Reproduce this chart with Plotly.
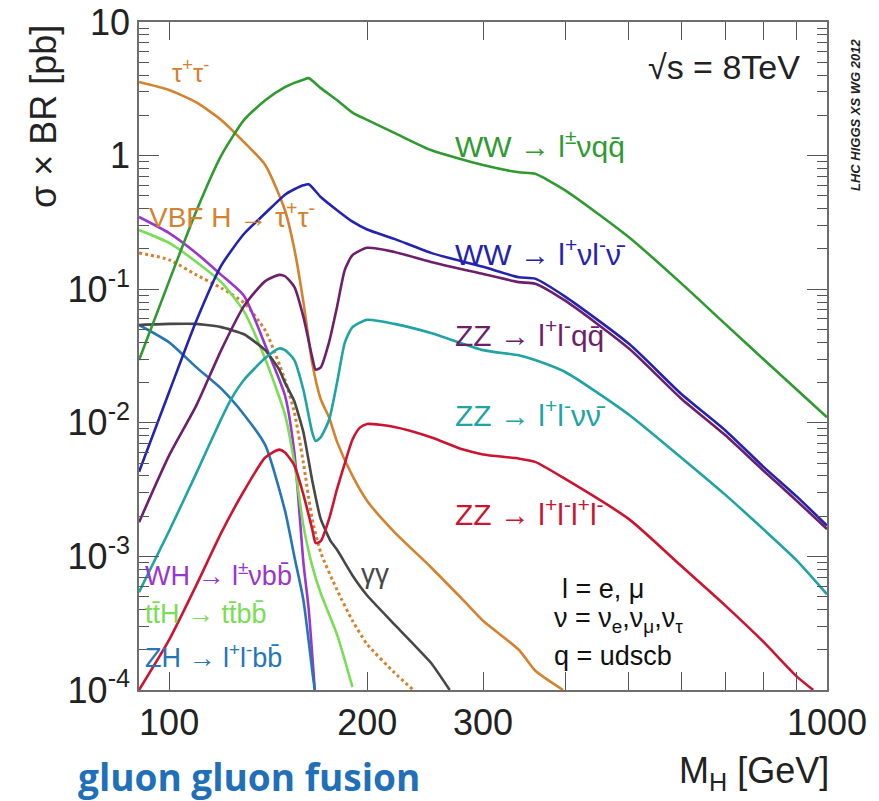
import plotly.graph_objects as go

# ---------------- data ----------------
M_ww_lvqq = [90, 100, 110, 120, 130, 140, 150, 155, 160, 163, 170, 180, 190, 200, 220, 250, 300, 340, 360, 400, 500, 600, 700, 800, 900, 1000]
ww_lvqq = [0.0295, 0.115, 0.385, 1.0, 1.85, 2.6, 3.25, 3.5, 3.7, 3.8, 3.2, 2.6, 2.1, 1.85, 1.48, 1.1, 0.85, 0.75, 0.73, 0.55, 0.245, 0.111, 0.055, 0.030, 0.0177, 0.011]

M_ww_lvlv = [90, 100, 110, 120, 130, 140, 150, 155, 160, 163, 170, 180, 190, 200, 220, 250, 300, 340, 360, 400, 500, 600, 700, 800, 900, 1000]
ww_lvlv = [0.0043, 0.017, 0.058, 0.15, 0.26, 0.37, 0.51, 0.56, 0.60, 0.61, 0.49, 0.39, 0.32, 0.28, 0.238, 0.187, 0.147, 0.123, 0.12, 0.088, 0.039, 0.0165, 0.0088, 0.0047, 0.0028, 0.0017]

M_zz_llqq = [90, 100, 110, 120, 130, 140, 147, 150, 155, 160, 165, 167, 170, 175, 180, 185, 190, 200, 220, 250, 300, 340, 360, 400, 500, 600, 700, 800, 900, 1000]
zz_llqq = [0.0018, 0.0057, 0.0135, 0.035, 0.075, 0.115, 0.128, 0.125, 0.104, 0.062, 0.031, 0.025, 0.026, 0.04, 0.074, 0.14, 0.18, 0.204, 0.19, 0.16, 0.13, 0.113, 0.11, 0.082, 0.036, 0.0152, 0.0081, 0.0044, 0.0026, 0.0016]

M_zz_llvv = [90, 100, 110, 120, 124, 130, 140, 147, 150, 155, 160, 165, 167, 170, 175, 180, 185, 190, 200, 220, 250, 300, 340, 360, 400, 500, 600, 700, 800, 900, 1000]
zz_llvv = [0.00054, 0.00155, 0.0042, 0.0107, 0.0148, 0.021, 0.0305, 0.036, 0.035, 0.0295, 0.0176, 0.0085, 0.0073, 0.0078, 0.0105, 0.02, 0.04, 0.052, 0.059, 0.055, 0.047, 0.035, 0.032, 0.0295, 0.024, 0.0115, 0.0055, 0.0029, 0.0016, 0.00093, 0.00052]

M_zz_4l = [90, 100, 110, 120, 130, 140, 147, 150, 155, 160, 165, 167, 170, 175, 180, 185, 190, 195, 200, 220, 250, 280, 300, 340, 360, 400, 500, 600, 700, 800, 900, 953]
zz_4l = [0.0001, 0.000237, 0.00061, 0.0015, 0.0031, 0.0055, 0.0063, 0.006, 0.0048, 0.0029, 0.0016, 0.00126, 0.0013, 0.0019, 0.0032, 0.005, 0.0075, 0.0092, 0.0098, 0.0093, 0.0078, 0.0063, 0.0058, 0.0054, 0.0051, 0.0038, 0.0019, 0.00085, 0.00043, 0.00023, 0.000126, 0.0001]

M_tautau = [90, 100, 110, 120, 130, 140, 150, 155, 160, 165, 170, 175, 180, 190, 200, 220, 250, 280, 300, 340, 360, 397]
tautau = [3.56, 3.1, 2.5, 1.85, 1.26, 0.85, 0.39, 0.2, 0.08, 0.028, 0.015, 0.011, 0.0072, 0.0040, 0.0026, 0.00152, 0.00083, 0.00047, 0.00033, 0.0002, 0.00014, 0.0001]

M_vbf_tautau = [90, 100, 110, 120, 130, 140, 150, 155, 160, 165, 170, 180, 190, 200, 220, 235]
vbf_tautau = [0.187, 0.166, 0.128, 0.102, 0.079, 0.049, 0.021, 0.012, 0.005, 0.0019, 0.00107, 0.00056, 0.00033, 0.00022, 0.000135, 0.0001]

M_gamgam = [90, 100, 110, 120, 130, 140, 147, 150, 155, 160, 165, 170, 176, 180, 190, 200, 220, 250, 267]
gamgam = [0.054, 0.055, 0.055, 0.052, 0.046, 0.035, 0.025, 0.02, 0.0145, 0.0085, 0.0037, 0.0019, 0.0013, 0.00112, 0.00072, 0.00051, 0.00031, 0.00016, 0.0001]

M_wh = [90, 100, 110, 120, 130, 140, 150, 155, 160, 163, 166.5]
wh_lvbb = [0.347, 0.263, 0.186, 0.128, 0.089, 0.038, 0.016, 0.006, 0.0009, 0.0004, 0.0001]

M_tth = [90, 100, 110, 120, 130, 140, 150, 155, 160, 165, 170, 180, 190]
tth_ttbb = [0.277, 0.222, 0.16, 0.113, 0.068, 0.03, 0.0115, 0.005, 0.0017, 0.00085, 0.00053, 0.00026, 0.000105]

M_zh = [90, 100, 110, 120, 130, 140, 150, 155, 160, 165, 166.5]
zh_llbb = [0.054, 0.04, 0.026, 0.018, 0.0115, 0.0068, 0.0022, 0.001, 0.00047, 0.00014, 0.0001]

x_tickvals = [100, 200, 300, 400, 500, 600, 700, 800, 900, 1000]
x_ticktext = ["100", "200", "300", "", "", "", "", "", "", "1000"]
y_tickvals = [1e-4, 1e-3, 1e-2, 1e-1, 1, 10]
y_ticktext = ["10<sup>-4</sup>", "10<sup>-3</sup>", "10<sup>-2</sup>", "10<sup>-1</sup>", "1", "10"]
y_minor = [m * 10.0 ** e for e in range(-4, 1) for m in range(2, 10)]

# ---------------- styles ----------------
C_GREEN = "#2f9a2f"
C_BLUE = "#2323b0"
C_PURPLE = "#6e1f6a"
C_TEAL = "#1fa3a3"
C_RED = "#cc1431"
C_ORANGE = "#d4822e"
C_GRAY = "#474747"
C_VIOLET = "#9a35d0"
C_LGREEN = "#79dd55"
C_STEEL = "#2675b8"

FONT = "Liberation Sans, Arial, Helvetica, sans-serif"

fig = go.Figure()

def add(x, y, color, dash="solid", width=2.6, smooth=0.6):
    fig.add_trace(go.Scatter(x=x, y=y, mode="lines",
                             line=dict(color=color, width=width, dash=dash,
                                       shape="spline", smoothing=smooth),
                             showlegend=False, hoverinfo="skip"))

add(M_vbf_tautau, vbf_tautau, C_ORANGE, dash="dot", width=3)
add(M_wh, wh_lvbb, C_VIOLET)
add(M_tth, tth_ttbb, C_LGREEN)
add(M_zh, zh_llbb, C_STEEL)
add(M_gamgam, gamgam, C_GRAY, smooth=0.4)
add(M_tautau, tautau, C_ORANGE)
add(M_zz_4l, zz_4l, C_RED)
add(M_zz_llvv, zz_llvv, C_TEAL)
add(M_zz_llqq, zz_llqq, C_PURPLE)
add(M_ww_lvlv, ww_lvlv, C_BLUE)
add(M_ww_lvqq, ww_lvqq, C_GREEN)

# The page body adds an 8px offset; the figure is sized so that the
# plot frame lands at the reference position.
OFF = 8
W, H = 879 - OFF, 801 - OFF
L, R, T, B = 139 - OFF, 52, 22 - OFF, 111
PW, PH = W - L - R, H - T - B

def px(x):
    return (x - OFF - L) / PW

def py(y):
    return (H - B - (y - OFF)) / PH

ann = []

def label(text, x, y, color, size=30, xanchor="left", yanchor="middle", angle=0, family=FONT):
    ann.append(dict(text=text, x=px(x), y=py(y), xref="paper", yref="paper",
                    xanchor=xanchor, yanchor=yanchor, showarrow=False,
                    textangle=angle, font=dict(color=color, size=size, family=family)))

bar = "\u0304"
label("τ<sup>+</sup>τ<sup>-</sup>", 190, 72, C_ORANGE, size=26, xanchor="center")
label("VBF H → τ<sup>+</sup>τ<sup>-</sup>", 147, 215, C_ORANGE, size=28)
label("√s = 8TeV", 802, 67, "#222", size=34, xanchor="right")
label("WW → l<sup>±</sup>νqq" + bar, 453, 144, C_GREEN, size=30)
label("WW → l<sup>+</sup>νl<sup>-</sup>ν" + bar, 453, 252, C_BLUE, size=30)
label("ZZ → l<sup>+</sup>l<sup>-</sup>qq" + bar, 453, 333, C_PURPLE, size=30)
label("ZZ → l<sup>+</sup>l<sup>-</sup>νν" + bar, 453, 413, C_TEAL, size=30)
label("ZZ → l<sup>+</sup>l<sup>-</sup>l<sup>+</sup>l<sup>-</sup>", 453, 512, C_RED, size=30)
label("γγ", 375, 573, C_GRAY, size=28, xanchor="center")
label("WH → l<sup>±</sup>νbb" + bar, 143, 574, C_VIOLET, size=27)
label("tt" + bar + "H → tt" + bar + "bb" + bar, 143, 614, C_LGREEN, size=27)
label("ZH → l<sup>+</sup>l<sup>-</sup>bb" + bar, 143, 656, C_STEEL, size=27)
label("l = e, μ", 560, 589, "#111", size=27)
label("ν = ν<sub>e</sub>,ν<sub>μ</sub>,ν<sub>τ</sub>", 552, 620, "#111", size=27)
label("q = udscb", 552, 656, "#111", size=27)
label("<b><i>LHC HIGGS XS WG 2012</i></b>", 856, 115, "#222", size=13, xanchor="center", angle=-90)
label("σ × BR [pb]", 43, 117, "#222", size=36, xanchor="center", angle=-90)
label("M<sub>H</sub> [GeV]", 831, 773, "#222", size=36, xanchor="right")
label("<b>gluon gluon fusion</b>", 76, 776, "#1f70b8", size=37, family="Open Sans, Lato, sans-serif")

axis_common = dict(showline=True, linecolor="#6e6e6e", linewidth=1.5, mirror="allticks",
                   ticks="inside", tickcolor="#555", tickwidth=1.4,
                   showgrid=False, zeroline=False, automargin=False,
                   ticklabeloverflow="allow",
                   tickfont=dict(family=FONT, size=36, color="#222"))

fig.update_layout(
    width=W, height=H,
    margin=dict(l=L, r=R, t=T, b=B, autoexpand=False),
    paper_bgcolor="white", plot_bgcolor="white",
    xaxis=dict(type="log", range=[1.9542, 3.0], tickmode="array",
               tickvals=x_tickvals, ticktext=x_ticktext, ticklen=18, **axis_common),
    yaxis=dict(type="log", range=[-4, 1.0000001], tickmode="array",
               tickvals=y_tickvals, ticktext=y_ticktext, ticklen=20,
               minor=dict(tickmode="array", tickvals=y_minor, ticks="inside",
                          ticklen=10, tickcolor="#555", tickwidth=1.2, showgrid=False),
               **axis_common),
    annotations=ann,
)

fig.write_html("out.html")
